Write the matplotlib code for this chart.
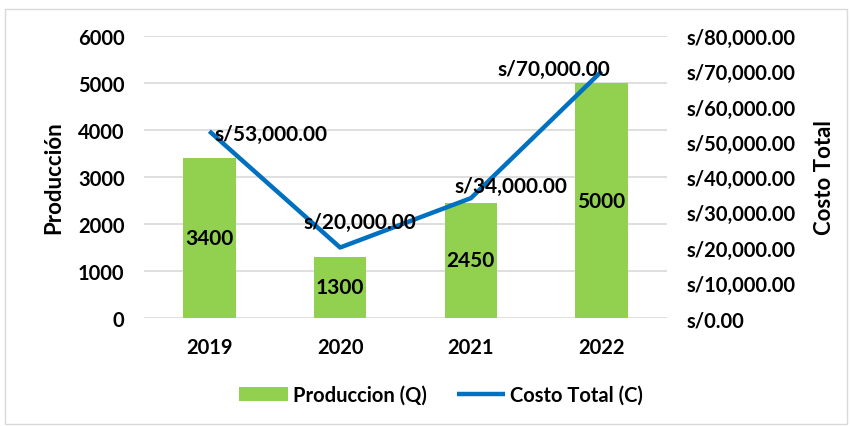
import matplotlib.pyplot as plt
from matplotlib.patches import Rectangle
from matplotlib.ticker import FuncFormatter

plt.rcParams['font.family'] = ['Lato', 'DejaVu Sans']
plt.rcParams['font.weight'] = 'bold'
plt.rcParams['axes.labelweight'] = 'bold'

years = ['2019', '2020', '2021', '2022']
produccion = [3400, 1300, 2450, 5000]
costo = [53000, 20000, 34000, 70000]

# offsets (pixels) for the cost labels, as in the reference
cost_offsets = [(5, -3), (20, 26), (40, 12), (-48, 2)]
cost_ha = ['left', 'center', 'center', 'center']

green = '#92D050'
blue = '#0070C0'

fig = plt.figure(figsize=(8.5, 4.27), dpi=100)
fig.patches.append(Rectangle((5 / 850, 2 / 427), 842 / 850, 415 / 427,
                             transform=fig.transFigure, fill=False,
                             edgecolor='#D9D9D9', linewidth=1))

ax = fig.add_axes([0.1694, 0.2529, 0.6153, 0.6604])
x = range(len(years))
bars = ax.bar(x, produccion, width=0.4, color=green, label='Produccion (Q)', zorder=2)
ax.set_ylim(0, 6000)
ax.set_yticks(range(0, 6001, 1000))
ax.set_xlim(-0.5, 3.5)
ax.set_xticks(list(x))
ax.set_xticklabels(years)
ax.grid(axis='y', color='#D9D9D9', linewidth=1.2, zorder=0)
ax.set_axisbelow(True)
for s in ax.spines.values():
    s.set_visible(False)
ax.tick_params(length=0, labelsize=14.5, pad=14)
ax.tick_params(axis='x', pad=14)
ax.set_ylabel('Producción', fontsize=16, labelpad=10)

for b, v in zip(bars, produccion):
    ax.text(b.get_x() + b.get_width() / 2, v / 2, str(v), ha='center', va='center',
            fontsize=15, color='black', zorder=5)

ax2 = ax.twinx()
line, = ax2.plot(list(x), costo, color=blue, linewidth=3.2, label='Costo Total (C)',
                 solid_capstyle='butt', zorder=3)
ax2.set_ylim(0, 80000)
ax2.set_yticks(range(0, 80001, 10000))
ax2.yaxis.set_major_formatter(FuncFormatter(lambda v, p: 's/{:,.2f}'.format(v)))
for s in ax2.spines.values():
    s.set_visible(False)
ax2.tick_params(length=0, labelsize=14.5, pad=14)
ax2.set_ylabel('Costo Total', fontsize=16, labelpad=13)

for i, v in enumerate(costo):
    ax2.annotate('s/{:,.2f}'.format(v), (i, v), xytext=cost_offsets[i],
                 textcoords='offset pixels', ha=cost_ha[i], va='center',
                 fontsize=15, zorder=6)

fig.legend(handles=[bars, line], labels=['Produccion (Q)', 'Costo Total (C)'],
           loc='center', bbox_to_anchor=(0.519, 0.073), ncol=2, frameon=False,
           fontsize=14.5, handlelength=2.4, columnspacing=1.5, handletextpad=0.25)

fig.savefig('out.png', dpi=100)
